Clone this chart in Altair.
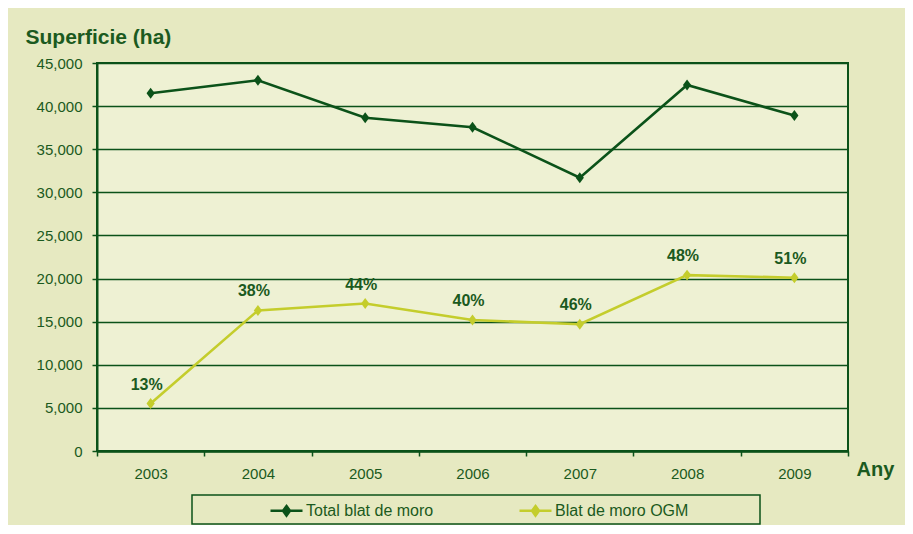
import altair as alt
import pandas as pd

years = ["2003", "2004", "2005", "2006", "2007", "2008", "2009"]
total = [41500, 43000, 38650, 37550, 31700, 42450, 38900]
ogm = [5500, 16300, 17100, 15200, 14700, 20400, 20100]
pct = ["13%", "38%", "44%", "40%", "46%", "48%", "51%"]
series_names = ["Total blat de moro", "Blat de moro OGM"]
y_ticks = [0, 5000, 10000, 15000, 20000, 25000, 30000, 35000, 40000, 45000]

rows = []
for yr, t, o, p in zip(years, total, ogm, pct):
    rows.append({"year": yr, "series": series_names[0], "value": t, "label": ""})
    rows.append({"year": yr, "series": series_names[1], "value": o, "label": p})
df = pd.DataFrame(rows)

DARK = "#0b5219"
LIME = "#c4cd2c"
TEXT = "#1b5a20"
OUTER = "#e6e9c1"
INNER = "#eef1d3"
FONT = "Liberation Sans"

diamond = "M0,-1L0.75,0L0,1L-0.75,0Z"
legend_sym = "M-1,0H1M0,-0.3L0.22,0L0,0.3L-0.22,0Z"

x = alt.X(
    "year:O",
    sort=years,
    scale=alt.Scale(type="band", paddingInner=0, paddingOuter=0),
    bandPosition=0.5,
    axis=alt.Axis(
        title="Any",
        titleFont=FONT, titleFontSize=20, titleFontWeight="bold", titleColor=TEXT,
        titleAlign="left", titleBaseline="alphabetic", titleX=759, titleY=24, titleAngle=0,
        tickBand="extent", labelAngle=0, labelFont=FONT, labelFontSize=15, labelColor=TEXT,
        labelPadding=10, tickSize=5, tickColor=DARK, tickWidth=1.5,
        domainColor=DARK, domainWidth=2.5, grid=False,
    ),
)
y = alt.Y(
    "value:Q",
    scale=alt.Scale(domain=[0, 45000], nice=False),
    axis=alt.Axis(
        values=y_ticks, format=",d",
        title="Superficie (ha)",
        titleFont=FONT, titleFontSize=21, titleFontWeight="bold", titleColor=TEXT,
        titleAngle=0, titleAlign="left", titleBaseline="alphabetic", titleX=-72, titleY=-20,
        labelFont=FONT, labelFontSize=15, labelColor=TEXT, labelPadding=10,
        tickSize=5, tickColor=DARK, tickWidth=1.5,
        domainColor=DARK, domainWidth=2,
        grid=True, gridColor=DARK, gridWidth=1.6,
    ),
)
color = alt.Color(
    "series:N",
    sort=series_names,
    scale=alt.Scale(domain=series_names, range=[DARK, LIME]),
    legend=alt.Legend(
        title=None, orient="none", direction="horizontal",
        legendX=172, legendY=430,
        symbolType=legend_sym, symbolSize=1024, symbolStrokeWidth=2.5,
        labelFont=FONT, labelFontSize=16, labelColor=TEXT, labelOffset=2,
        columnPadding=80, padding=0,
    ),
)

base = alt.Chart(df)

lines = base.mark_line(strokeWidth=2.6).encode(x=x, y=y, color=color)
points = base.mark_point(shape=diamond, filled=True, size=120, opacity=1).encode(
    x=x, y=y, color=alt.Color("series:N", sort=series_names,
                              scale=alt.Scale(domain=series_names, range=[DARK, LIME]),
                              legend=None)
)
labels = base.transform_filter(alt.datum.label != "").mark_text(
    dy=-19, dx=-4, font=FONT, fontSize=16, fontWeight="bold", color=TEXT
).encode(x=x, y=y, text="label:N")

box = alt.Chart(pd.DataFrame({"a": [0]})).mark_rect(
    fill="transparent", stroke=DARK, strokeWidth=1.5
).encode(x=alt.value(95), x2=alt.value(663), y=alt.value(432), y2=alt.value(461))

chart = alt.layer(box, lines, points, labels).properties(
    width=751, height=388,
    background=OUTER,
    padding={"left": 89, "top": 55, "right": 57, "bottom": 74},
    autosize=alt.AutoSizeParams(type="none"),
).configure_view(
    fill=INNER, stroke=DARK, strokeWidth=2
)

chart.save("out.html", embed_options={"renderer": "svg", "actions": False})
